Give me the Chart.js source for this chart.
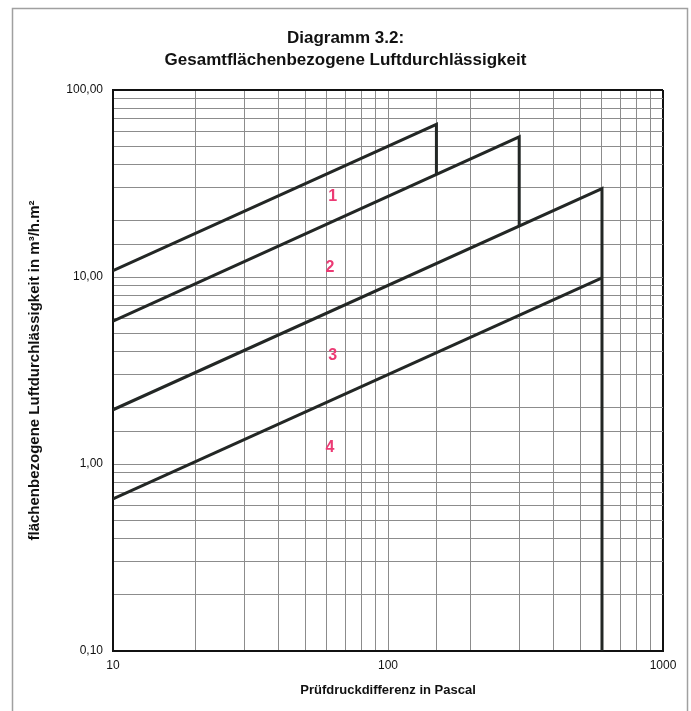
<!DOCTYPE html>
<html>
<head>
<meta charset="utf-8">
<script src="https://cdn.jsdelivr.net/npm/chart.js@4/dist/chart.umd.min.js"></script>
<style>
  html, body { margin: 0; padding: 0; background: #fff; }
  canvas { display: block; }
</style>
</head>
<body>
<canvas id="diagram" width="691" height="711"></canvas>
<script>
// Class boundaries (pressure in Pa, air permeability in m³/h.m²)
const class1X = [10, 150, 150];
const class1Y = [10.8, 65.5, 35.4];
const class2X = [10, 300, 300];
const class2Y = [5.8, 56.2, 18.7];
const class3X = [10, 600, 600];
const class3Y = [1.95, 29.7, 0.1];
const class4X = [10, 600];
const class4Y = [0.65, 9.9];

// Class numbers written inside the bands
const classNames = ['1', '2', '3', '4'];
const classLabelX = [63, 61.5, 63, 61.5];
const classLabelY = [26.8, 11.2, 3.8, 1.23];

const xTickLabels = [10, 100, 1000];
const yTickLabels = [0.1, 1, 10, 100];

const toPoints = (xs, ys) => xs.map((x, i) => ({ x: x, y: ys[i] }));
const isLabelled = (v, list) => list.some(t => Math.abs(Math.log10(v) - Math.log10(t)) < 1e-6);

Chart.defaults.font.family = "'Liberation Sans', Arial, sans-serif";
Chart.defaults.color = '#111';

// white page + grey frame round the sheet
const pageFrame = {
    id: 'pageFrame',
    beforeDraw(chart) {
        const c = chart.ctx;
        c.save();
        c.fillStyle = '#fff';
        c.fillRect(0, 0, chart.width, chart.height);
        c.strokeStyle = '#a0a0a0';
        c.lineWidth = 1.5;
        c.strokeRect(12.5, 8.5, 675, 712);
        c.restore();
    }
};

// pink class numbers
const classLabels = {
    id: 'classLabels',
    afterDatasetsDraw(chart) {
        const c = chart.ctx;
        const xs = chart.scales.x, ys = chart.scales.y;
        c.save();
        c.fillStyle = '#ec3a74';
        c.font = "bold 16px 'Liberation Sans', Arial, sans-serif";
        c.textAlign = 'center';
        c.textBaseline = 'middle';
        classNames.forEach((name, i) => {
            c.fillText(name, xs.getPixelForValue(classLabelX[i]), ys.getPixelForValue(classLabelY[i]));
        });
        c.restore();
    }
};

const lineStyle = {
    borderColor: '#232725',
    borderWidth: 3,
    pointRadius: 0,
    showLine: true,
    tension: 0,
    fill: false
};

const gridColor = (ctx, n) => (ctx.index === 0 || ctx.index === n - 1) ? '#111' : '#8c8c8c';

new Chart(document.getElementById('diagram'), {
    type: 'scatter',
    data: {
        datasets: [
            { ...lineStyle, data: toPoints(class1X, class1Y) },
            { ...lineStyle, data: toPoints(class2X, class2Y) },
            { ...lineStyle, data: toPoints(class3X, class3Y) },
            { ...lineStyle, data: toPoints(class4X, class4Y) }
        ]
    },
    options: {
        responsive: false,
        animation: false,
        layout: { padding: 0 },
        plugins: {
            legend: { display: false },
            tooltip: { enabled: false },
            title: {
                display: true,
                text: ['Diagramm 3.2:', 'Gesamtflächenbezogene Luftdurchlässigkeit'],
                font: { size: 17, weight: 'bold', lineHeight: 1.25 },
                color: '#111',
                padding: { top: 28, bottom: 19.5 }
            }
        },
        scales: {
            x: {
                type: 'logarithmic',
                min: 10,
                max: 1000,
                afterFit: s => { s.height = 60; },
                border: { display: true, color: '#111', width: 2 },
                grid: {
                    drawTicks: false,
                    color: ctx => gridColor(ctx, ctx.scale.ticks.length),
                    lineWidth: ctx => (ctx.index === ctx.scale.ticks.length - 1) ? 2 : 1
                },
                ticks: {
                    autoSkip: false,
                    maxRotation: 0,
                    padding: 7,
                    font: { size: 12 },
                    callback: v => isLabelled(v, xTickLabels) ? String(Math.round(v)) : ''
                },
                title: {
                    display: true,
                    text: 'Prüfdruckdifferenz in Pascal',
                    font: { size: 13, weight: 'bold' },
                    padding: { top: 0, bottom: 13 }
                }
            },
            y: {
                type: 'logarithmic',
                min: 0.1,
                max: 100,
                afterFit: s => { s.width = 113; },
                border: { display: true, color: '#111', width: 2 },
                grid: {
                    drawTicks: false,
                    color: ctx => gridColor(ctx, ctx.scale.ticks.length),
                    lineWidth: ctx => (ctx.index === ctx.scale.ticks.length - 1) ? 2 : 1
                },
                ticks: {
                    autoSkip: false,
                    padding: 10,
                    font: { size: 12 },
                    callback: v => isLabelled(v, yTickLabels) ? v.toFixed(2).replace('.', ',') : ''
                },
                title: {
                    display: true,
                    text: 'flächenbezogene Luftdurchlässigkeit in m³/h.m²',
                    font: { size: 15, weight: 'bold' },
                    padding: { top: 26, bottom: 0 }
                }
            },
            // empty right-hand axis, only keeps the margin on the right
            yRight: {
                type: 'linear',
                position: 'right',
                afterFit: s => { s.width = 28; },
                grid: { display: false },
                border: { display: false },
                ticks: { display: false }
            }
        }
    },
    plugins: [pageFrame, classLabels]
});
</script>
</body>
</html>
